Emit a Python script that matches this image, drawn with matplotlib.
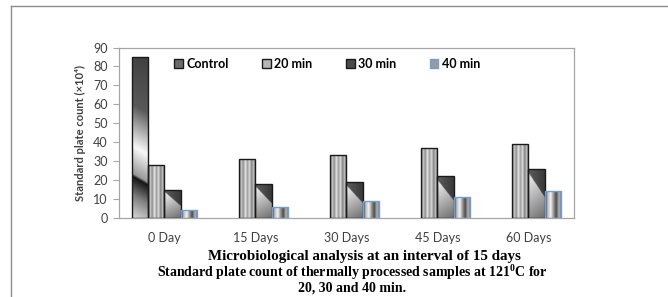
import numpy as np
import matplotlib
matplotlib.use("Agg")
import matplotlib.pyplot as plt
from matplotlib.patches import Patch
from matplotlib.lines import Line2D

days = ["0 Day", "15 Days", "30 Days", "45 Days", "60 Days"]
series = ["Control", "20 min", "30 min", "40 min"]
control = [85, 0, 0, 0, 0]
min20 = [28, 31, 33, 37, 39]
min30 = [15, 18, 19, 22, 26]
min40 = [4, 6, 9, 11, 14]

SANS = ["Lato", "DejaVu Sans"]
SERIF = ["Liberation Serif", "DejaVu Serif"]
plt.rcParams["mathtext.fontset"] = "custom"
plt.rcParams["mathtext.rm"] = "Liberation Serif:bold"
plt.rcParams["mathtext.it"] = "Liberation Serif:bold"
plt.rcParams["mathtext.bf"] = "Liberation Serif:bold"


# grey fills that mimic the Excel gradient / stripe bar styles
def fill_control(u, y):
    s = y + 5 * u
    return np.interp(s, [0, 12, 22, 23.5, 38, 60, 90],
                     [0.85, 0.5, 0.08, 0.6, 0.97, 0.35, 0.25])


def fill_stripes(u, y):
    return np.interp(u, np.linspace(0, 1, 9),
                     [0.4, 0.8, 0.55, 0.92, 0.6, 0.88, 0.5, 0.78, 0.35])


def fill_diag(u, w):
    wb = 0.92 - 0.5 * u
    above = 0.22 + 0.15 * (1 - u)
    e = np.clip(wb - w, 0, None)
    below = np.clip(0.97 - 0.45 * e - 0.35 * u, 0.2, 1)
    return np.where(w > wb, above, below)


def fill_bands(u, y):
    return np.interp(u, np.linspace(0, 1, 7),
                     [0.35, 0.75, 0.95, 0.6, 0.3, 0.7, 0.45])


fills = [fill_control, fill_stripes, fill_diag, fill_bands]
edges = ["#1a1a1a", "#1a1a1a", "#1a1a1a", "#6f9fd8"]
values = [control, min20, min30, min40]

fig = plt.figure(figsize=(6.68, 2.97), dpi=100)
ax = fig.add_axes([0.178, 0.266, 0.681, 0.574])

x = np.arange(len(days))
width = 0.18
for k, (vals, fill, ec) in enumerate(zip(values, fills, edges)):
    pos = x + (k - 1.5) * width
    bars = ax.bar(pos, vals, width, facecolor="none", edgecolor=ec,
                  linewidth=1.0, zorder=3)
    for b, v in zip(bars, vals):
        if v <= 0:
            b.set_visible(False)
            continue
        x0 = b.get_x()
        uu, vv = np.meshgrid(np.linspace(0, 1, 40), np.linspace(0, 1, 200))
        yy = vv * v
        img = fill(uu, vv) if fill is fill_diag else fill(uu, yy)
        im = ax.imshow(img, cmap="gray", vmin=0, vmax=1, origin="lower",
                       extent=(x0, x0 + width, 0, v), aspect="auto",
                       interpolation="bilinear", zorder=2)
        im.set_clip_path(b)

ax.set_xlim(-0.5, len(days) - 0.5)
ax.set_ylim(0, 90)
ax.set_yticks(range(0, 91, 10))
ax.set_xticks(x)
ax.set_xticklabels(days)
for sp in ax.spines.values():
    sp.set_color("#a6a6a6")
    sp.set_linewidth(0.9)
ax.tick_params(axis="x", length=0, pad=10, labelsize=9, colors="#404040")
ax.tick_params(axis="y", length=4, width=0.8, color="#a6a6a6",
               labelsize=9, labelcolor="#404040", pad=4)
for t in ax.get_xticklabels() + ax.get_yticklabels():
    t.set_family(SANS)

ax.set_ylabel("Standard plate count (×10⁴)", family=SANS, fontsize=8,
              fontweight="bold", color="#404040", labelpad=5)

handles = [
    Patch(facecolor="#6a6a6a", edgecolor="#1a1a1a", label="Control"),
    Patch(facecolor="#b5b5b5", edgecolor="#1a1a1a", label="20 min"),
    Patch(facecolor="#4a4a4a", edgecolor="#1a1a1a", label="30 min"),
    Patch(facecolor="#9a9a9a", edgecolor="#6f9fd8", label="40 min"),
]
leg = ax.legend(handles=handles, ncol=4, loc="center left",
                bbox_to_anchor=(0.11, 0.905), frameon=False,
                handlelength=0.7, handleheight=0.7, handletextpad=0.3,
                columnspacing=2.65, borderaxespad=0,
                prop={"family": SANS, "weight": "bold", "size": 9})

fig.text(0.545, 0.137, "Microbiological analysis at an interval of 15 days",
         ha="center", va="center", family=SERIF, fontweight="bold",
         fontsize=10.8)
fig.text(0.527, 0.081,
         r"Standard plate count of thermally processed samples at 121$^{0}$C for",
         ha="center", va="center", family=SERIF, fontweight="bold",
         fontsize=10)
fig.text(0.527, 0.030, "20, 30 and 40 min.", ha="center", va="center",
         family=SERIF, fontweight="bold", fontsize=10)

# outer frame (left and top rules)
fig.add_artist(Line2D([11 / 668, 11 / 668], [0, 1 - 6 / 297],
                      color="#8c8c8c", linewidth=1.0))
fig.add_artist(Line2D([11 / 668, 1], [1 - 6 / 297, 1 - 6 / 297],
                      color="#8c8c8c", linewidth=1.0))

fig.savefig("out.png", dpi=100)
